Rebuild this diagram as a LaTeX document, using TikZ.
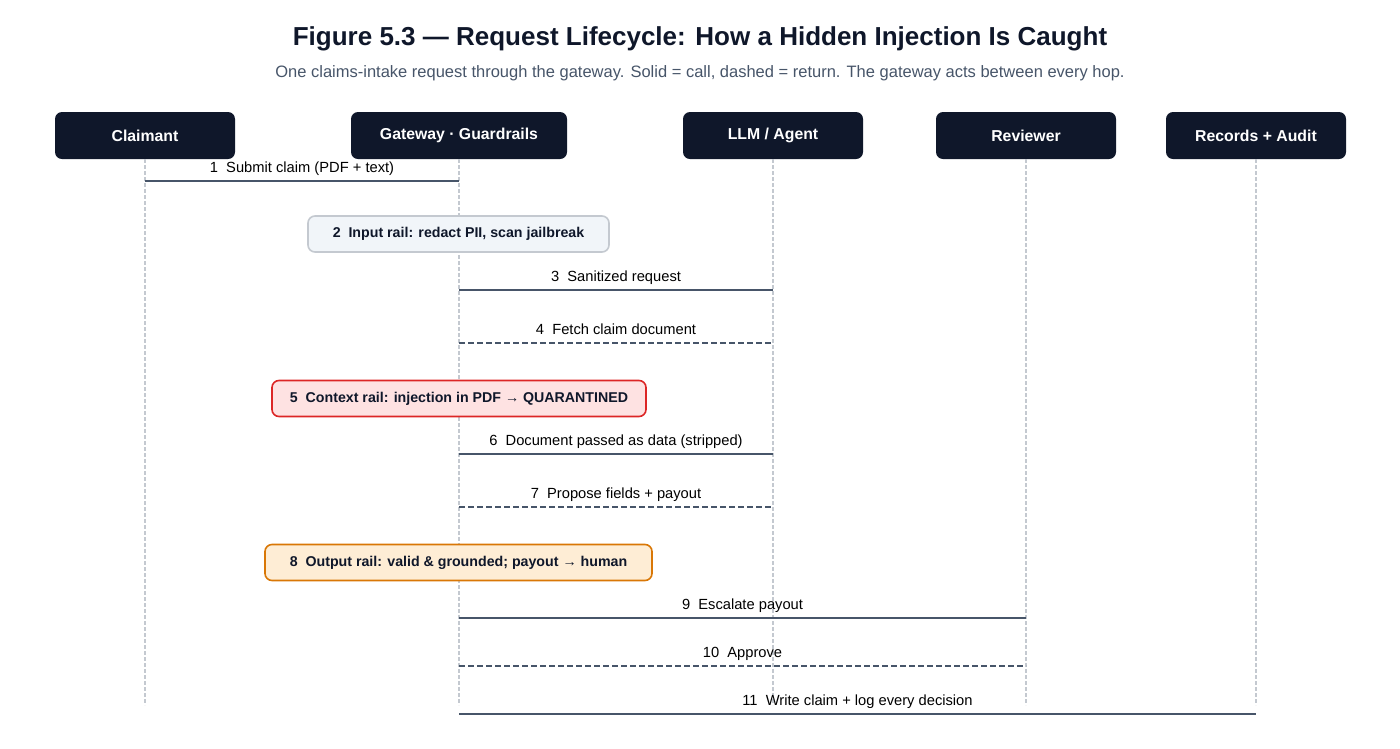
\documentclass[tikz,border=0pt]{standalone}
\usepackage{fontspec}
\setmainfont{Liberation Sans}
\usetikzlibrary{calc}
\begin{document}
\begin{tikzpicture}[x=1pt,y=-1pt,
 head/.style={draw=none,fill=hd,rounded corners=7pt,minimum width=180pt,minimum height=47pt,text=white,font=\bfseries\fontsize{15.8}{18}\selectfont},
 life/.style={draw=lf,line width=1.2pt,dash pattern=on 4pt off 2pt},
 msg/.style={draw=ln,line width=2.2pt},
 ret/.style={msg,dash pattern=on 6pt off 3pt},
 lab/.style={font=\fontsize{14.7}{17}\selectfont,text=black,anchor=base},
 rail/.style={rounded corners=7pt,line width=1.6pt,minimum height=36pt,font=\bfseries\fontsize{14.2}{16}\selectfont,text=hd}]
\definecolor{hd}{HTML}{0F172A}
\definecolor{lf}{HTML}{C4C9D0}
\definecolor{ln}{HTML}{475569}
\path[use as bounding box] (0,0) rectangle (1400,748);
\node[font=\bfseries\fontsize{26}{30}\selectfont,text=hd] (title) at (700,39) {Figure 5.3 — Request Lifecycle: How a Hidden Injection Is Caught};
\node[font=\fontsize{16.5}{19}\selectfont,text=ln] (sub) at (700,73) {One claims-intake request through the gateway. Solid = call, dashed = return. The gateway acts between every hop.};
\node[head] (A) at (145,135.5) {Claimant};
\node[head,minimum width=216pt] (B) at (459,135.5) {Gateway · Guardrails};
\node[head] (C) at (773,135.5) {LLM / Agent};
\node[head] (D) at (1026,135.5) {Reviewer};
\node[head] (E) at (1256,135.5) {Records + Audit};
\foreach \n/\x in {a/145,b/459,c/773,d/1026,e/1256}{
 \coordinate (\n0) at (\x,159); \coordinate (\n1) at (\x,705);
 \draw[life] (\n0) -- (\n1);}
\foreach \i/\s/\t/\y/\sty/\txt in {
 1/145/459/181/msg/{1\ \ Submit claim (PDF + text)},
 3/459/773/290/msg/{3\ \ Sanitized request},
 4/459/773/343/ret/{4\ \ Fetch claim document},
 6/459/773/454/msg/{6\ \ Document passed as data (stripped)},
 7/459/773/507/ret/{7\ \ Propose fields + payout},
 9/459/1026/618/msg/{9\ \ Escalate payout},
 10/459/1026/666/ret/{10\ \ Approve},
 11/459/1256/714/msg/{11\ \ Write claim + log every decision}}{
 \coordinate (m\i s) at (\s,\y); \coordinate (m\i t) at (\t,\y);
 \draw[\sty] (m\i s) -- (m\i t);
 \node[lab] (l\i) at ($(m\i s)!0.5!(m\i t)+(0,-9)$) {\txt};}
\node[rail,draw=lf,fill={rgb,255:red,241;green,245;blue,249},minimum width=301pt] (r2) at (458.5,234) {2\ \ Input rail: redact PII, scan jailbreak};
\node[rail,draw={rgb,255:red,220;green,38;blue,38},fill={rgb,255:red,254;green,226;blue,226},minimum width=374pt] (r5) at (459,398.5) {5\ \ Context rail: injection in PDF → QUARANTINED};
\node[rail,draw={rgb,255:red,217;green,119;blue,6},fill={rgb,255:red,254;green,237;blue,213},minimum width=387pt] (r8) at (458.5,562.5) {8\ \ Output rail: valid \& grounded; payout → human};
\end{tikzpicture}
\end{document}
